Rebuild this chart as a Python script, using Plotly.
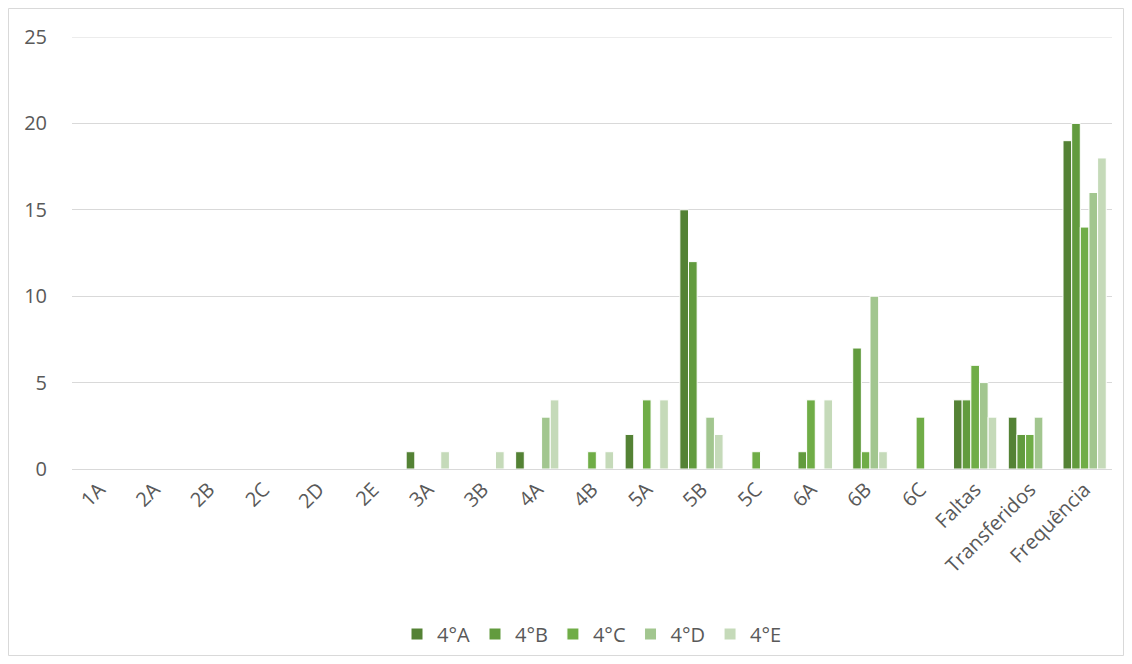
import plotly.graph_objects as go

categories = ["1A", "2A", "2B", "2C", "2D", "2E", "3A", "3B", "4A", "4B", "5A", "5B",
              "5C", "6A", "6B", "6C", "Faltas", "Transferidos", "Frequência"]
series_names = ["4°A", "4°B", "4°C", "4°D", "4°E"]
v_4A = [0, 0, 0, 0, 0, 0, 1, 0, 1, 0, 2, 15, 0, 0, 0, 0, 4, 3, 19]
v_4B = [0, 0, 0, 0, 0, 0, 0, 0, 0, 0, 0, 12, 0, 1, 7, 0, 4, 2, 20]
v_4C = [0, 0, 0, 0, 0, 0, 0, 0, 0, 1, 4, 0, 1, 4, 1, 3, 6, 2, 14]
v_4D = [0, 0, 0, 0, 0, 0, 0, 0, 3, 0, 0, 3, 0, 0, 10, 0, 5, 3, 16]
v_4E = [0, 0, 0, 0, 0, 0, 1, 1, 4, 1, 4, 2, 0, 4, 1, 0, 3, 0, 18]
colors = ["#548235", "#629B3E", "#70AD47", "#A2C68F", "#C5DAB9"]
y_max = 25

fig = go.Figure()
for name, vals, col in zip(series_names, [v_4A, v_4B, v_4C, v_4D, v_4E], colors):
    fig.add_trace(go.Bar(x=categories, y=vals, name=name,
                         marker=dict(color=col, line=dict(color="white", width=1))))

# page is drawn with an 8px body offset; layout compensates
W, H = 1116, 648
L, T = 64, 29
R, B = W - 1104, H - 461
PW, PH = W - L - R, H - T - B

font_family = "Open Sans, Liberation Sans, sans-serif"
fig.update_layout(
    width=W, height=H,
    margin=dict(l=L, r=R, t=T, b=B, autoexpand=False),
    plot_bgcolor="white", paper_bgcolor="white",
    barmode="group", bargap=0.21, bargroupgap=0,
    font=dict(family=font_family, size=20, color="#595959"),
    showlegend=True,
    legend=dict(orientation="h", x=0.5, xanchor="center", y=-165 / PH, yanchor="middle",
                font=dict(size=20, color="#595959"), itemwidth=30, traceorder="normal"),
    xaxis=dict(tickangle=-45, showgrid=False, showline=True, linecolor="#D9D9D9",
               linewidth=1, ticks="", automargin=False,
               tickfont=dict(size=20, color="#595959")),
    yaxis=dict(range=[0, y_max], dtick=5, showgrid=True, gridcolor="#D9D9D9", gridwidth=1,
               zeroline=False, showline=False, ticks="", ticklabelstandoff=24,
               automargin=False, tickfont=dict(size=20, color="#595959")),
    shapes=[dict(type="rect", xref="paper", yref="paper",
                 x0=(0.5 - L) / PW, x1=(W - 0.5 - L) / PW,
                 y0=-(B - 0.5) / PH, y1=1 + (T - 0.5) / PH,
                 line=dict(color="#D9D9D9", width=1)),
            dict(type="line", xref="paper", yref="y", x0=0, x1=1, y0=y_max, y1=y_max,
                 line=dict(color="#D9D9D9", width=1), layer="below")],
)

fig.write_html("out.html")
